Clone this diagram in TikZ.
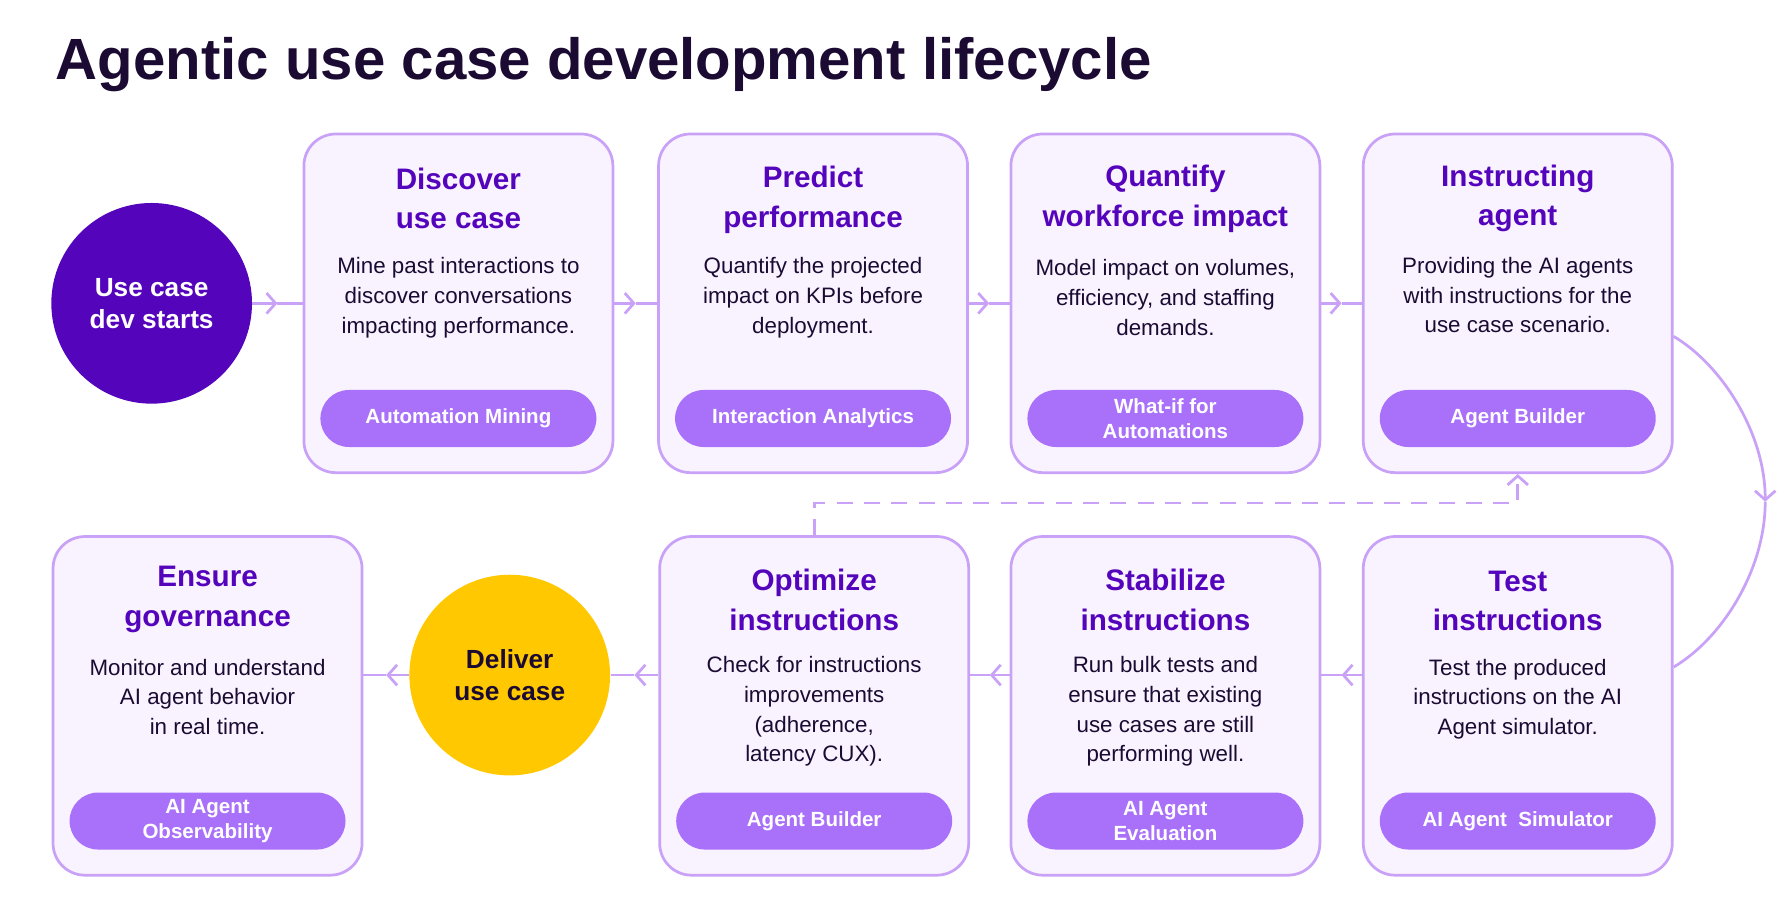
\documentclass[tikz,border=0pt]{standalone}
\usepackage{fontspec}
\setmainfont{Liberation Sans}
\usetikzlibrary{calc,arrows.meta}
\definecolor{deep}{HTML}{5405BC}
\definecolor{boxfill}{HTML}{F9F3FF}
\definecolor{boxline}{HTML}{C9A2F8}
\definecolor{pill}{HTML}{A970FA}
\definecolor{ink}{HTML}{1B0B33}
\definecolor{gold}{HTML}{FFC800}
\tikzset{
  card/.style={draw=boxline,line width=1.2pt,fill=boxfill,rounded corners=14pt,minimum width=135.5pt,minimum height=148.5pt,inner sep=0pt},
  ttl/.style={text=deep,font=\fontsize{13}{17.5}\selectfont\bfseries,align=center},
  body/.style={text=ink,font=\fontsize{9.8}{13}\selectfont,align=center},
  pil/.style={fill=pill,rounded corners=12.5pt,minimum width=121pt,minimum height=25pt,text=white,font=\fontsize{9}{11}\selectfont\bfseries,align=center,inner sep=0pt},
  conn/.style={draw=boxline,line width=1.2pt},
  tip/.style={-{Straight Barb[length=4pt,width=9pt]}},
}
\begin{document}
\begin{tikzpicture}[x=0.5pt,y=-0.5pt]
\useasboundingbox (0,0) rectangle (1568,787);
\node[anchor=base west,text=ink,font=\fontsize{25.5}{30}\selectfont\bfseries] (title) at (42,70) {Agentic use case development lifecycle};
% circles
\node[circle,fill=deep,minimum size=88pt,text=white,font=\fontsize{11.5}{14}\selectfont\bfseries,align=center] (start) at (133,266) {Use case\\dev starts};
\node[circle,fill=gold,minimum size=88pt,text=ink,font=\fontsize{11.5}{14}\selectfont\bfseries,align=center] (deliver) at (447,592) {Deliver\\use case};
% top row
\node[card] (c1) at (402,266) {};
\node[card] (c2) at (713,266) {};
\node[card] (c3) at (1022,266) {};
\node[card] (c4) at (1331,266) {};
% bottom row
\node[card] (d1) at (182,619) {};
\node[card] (d2) at (714,619) {};
\node[card] (d3) at (1022,619) {};
\node[card] (d4) at (1331,619) {};
% top texts
\node[ttl] (t1) at (402,174) {Discover\\use case};
\node[body] (b1) at (402,261) {Mine past interactions to\\discover conversations\\impacting performance.};
\node[pil] (p1) at (402,367) {Automation Mining};
\node[ttl] (t2) at (713,175) {Predict\\performance};
\node[body] (b2) at (713,261) {Quantify the projected\\impact on KPIs before\\deployment.};
\node[pil] (p2) at (713,367) {Interaction Analytics};
\node[ttl] (t3) at (1022,174) {Quantify\\workforce impact};
\node[body] (b3) at (1022,261) {Model impact on volumes,\\efficiency, and staffing\\demands.};
\node[pil] (p3) at (1022,367) {What-if for\\Automations};
\node[ttl] (t4) at (1331,174) {Instructing\\agent};
\node[body] (b4) at (1331,259) {Providing the AI agents\\with instructions for the\\use case scenario.};
\node[pil] (p4) at (1331,367) {Agent Builder};
% bottom texts
\node[ttl] (u1) at (182,526) {Ensure\\governance};
\node[body] (e1) at (182,611) {Monitor and understand\\AI agent behavior\\in real time.};
\node[pil] (q1) at (182,720) {AI Agent\\Observability};
\node[ttl] (u2) at (714,526) {Optimize\\instructions};
\node[body] (e2) at (714,624) {Check for instructions\\improvements\\(adherence,\\latency CUX).};
\node[pil] (q2) at (714,720) {Agent Builder};
\node[ttl] (u3) at (1022,526) {Stabilize\\instructions};
\node[body] (e3) at (1022,624) {Run bulk tests and\\ensure that existing\\use cases are still\\performing well.};
\node[pil] (q3) at (1022,720) {AI Agent\\Evaluation};
\node[ttl] (u4) at (1331,527) {Test\\instructions};
\node[body] (e4) at (1331,613) {Test the produced\\instructions on the AI\\Agent simulator.};
\node[pil] (q4) at (1331,720) {AI Agent\ \ Simulator};
% connectors with mid chevrons
\foreach \a/\b in {start/c1,c1/c2,c2/c3,c3/c4}{
  \coordinate (m) at ($(\a.east)!0.5!(\b.west)$);
  \draw[conn,tip] (\a.east) -- (m);
  \draw[conn] (m) -- (\b.west);
}
\foreach \a/\b in {d4/d3,d3/d2,d2/deliver,deliver/d1}{
  \coordinate (sa) at (\a.west |- deliver.center);
  \coordinate (sb) at (\b.east |- deliver.center);
  \coordinate (m) at ($(sa)!0.5!(sb)$);
  \draw[conn,tip] (sa) -- (m);
  \draw[conn] (m) -- (sb);
}
% loop curve
\coordinate (lp) at (1548,440);
\draw[conn,tip] (c4.east |- 0,295) .. controls (1510,320) and (1548,380) .. (lp);
\draw[conn] (lp) .. controls (1548,500) and (1510,560) .. (d4.east |- 0,585);
% dashed feedback
\coordinate (k1) at (714,441);
\coordinate (k2) at (1331,441);
\draw[conn,dashed,dash pattern=on 7pt off 5pt,tip] (d2.north) -- (k1) -- (k2) -- (c4.south);
\end{tikzpicture}
\end{document}
